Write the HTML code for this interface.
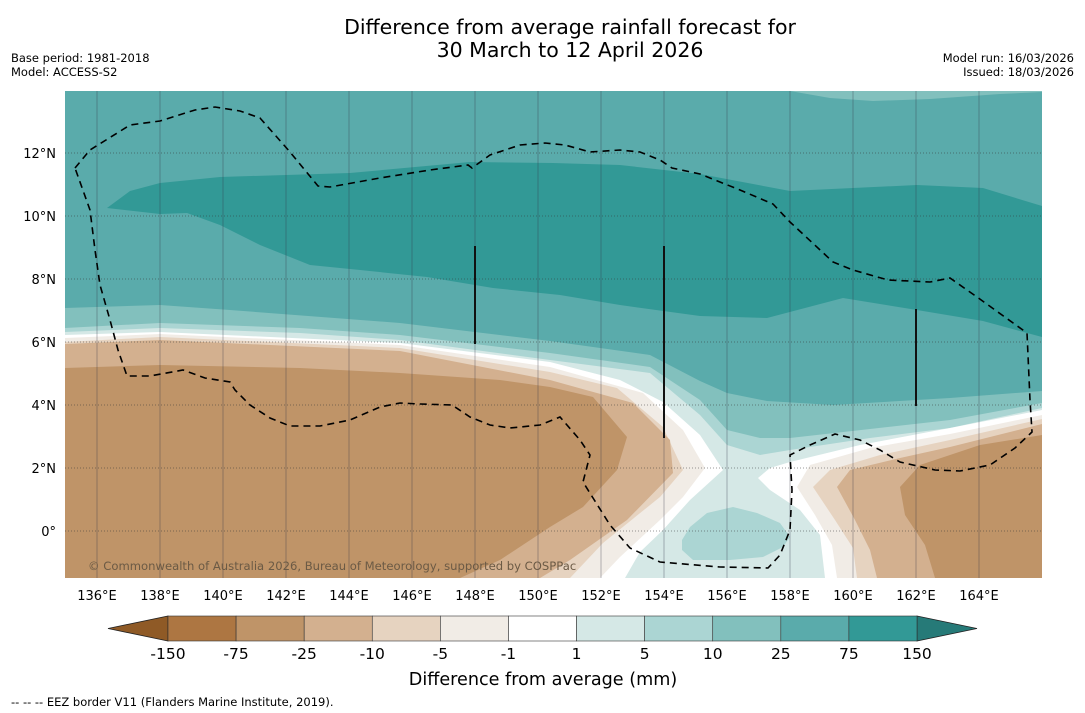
<!DOCTYPE html>
<html><head><meta charset="utf-8"><style>
body{margin:0;background:#fff;width:1085px;height:713px;overflow:hidden;font-family:"DejaVu Sans","Liberation Sans",sans-serif}
svg{position:absolute;left:0;top:0}
</style></head><body>
<svg id="chart" width="1085" height="713" viewBox="0 0 1085 713">
<text x="570" y="34" font-size="20.5" text-anchor="middle">Difference from average rainfall forecast for</text>
<text x="570" y="57" font-size="20.5" text-anchor="middle">30 March to 12 April 2026</text>
<text x="11" y="62" font-size="11.5">Base period: 1981-2018</text>
<text x="11" y="76" font-size="11.5">Model: ACCESS-S2</text>
<text x="1074" y="62" font-size="11.5" text-anchor="end">Model run: 16/03/2026</text>
<text x="1074" y="76" font-size="11.5" text-anchor="end">Issued: 18/03/2026</text>
<defs><clipPath id="mc"><rect x="65" y="91" width="977" height="487"/></clipPath></defs>
<g clip-path="url(#mc)">
<rect x="65" y="91" width="977" height="487" fill="#5aabab"/>
<polygon fill="#82c0bd" points="790,91 830,98 873,101 930,99 1000,94 1042,92 1042,91"/>
<polygon fill="#329996" points="107,208 130,191 160,183 220,177 350,173 470,162 553,163 620,165 700,174 790,191 853,188 917,185 983,188 1042,206 1042,337 983,321 917,310 843,298 767,318 700,316 620,305 560,295 493,288 427,277 360,270 310,265 260,245 220,225 187,213 160,214"/>
<polygon fill="#82c0bd" points="65,308 160,305 230,310 400,323 550,341 650,355 700,381 727,393 767,401 833,405 950,398 1042,391 1042,578 65,578"/>
<polygon fill="#abd5d3" points="65,328 160,323 300,328 400,335 550,353 650,367 700,400 727,430 760,438 790,438 950,420 1042,403 1042,578 65,578"/>
<polygon fill="#d5e8e6" points="65,332 160,328 300,333 400,340 550,360 650,373 700,415 727,445 760,455 790,450 870,438 950,428 1042,408 1042,578 65,578"/>
<polygon fill="#ffffff" points="65,335 160,332 400,343 550,362 620,380 663,402 700,435 723,470 690,500 663,530 640,552 625,578 65,578"/>
<polygon fill="#ffffff" points="1042,410 950,428 860,445 790,462 770,468 758,478 770,490 800,510 820,535 825,578 1042,578"/>
<polygon fill="#f1ece6" points="65,338 160,334 400,345 550,367 643,393 683,430 705,468 683,497 660,520 620,557 600,578 65,578"/>
<polygon fill="#f1ece6" points="1042,415 950,434 870,448 810,465 797,487 815,515 832,545 837,578 1042,578"/>
<polygon fill="#e6d3c0" points="65,342 160,337 400,348 550,372 617,388 663,427 683,470 660,497 603,543 570,578 65,578"/>
<polygon fill="#e6d3c0" points="1042,419 950,440 880,455 830,470 813,487 835,520 853,548 857,578 1042,578"/>
<polygon fill="#d3b08f" points="65,344 160,340 400,351 550,380 633,403 670,440 673,473 627,520 570,560 540,578 65,578"/>
<polygon fill="#d3b08f" points="1042,424 950,447 900,458 850,470 837,487 855,520 870,550 877,578 1042,578"/>
<polygon fill="#bf9468" points="65,368 160,365 300,368 400,373 500,380 550,387 593,397 627,437 617,470 583,507 550,527 500,560 460,578 65,578"/>
<polygon fill="#bf9468" points="1042,435 980,445 920,465 900,487 905,515 925,545 935,578 1042,578"/>
<polygon fill="#abd5d3" points="682,540 690,527 707,513 733,507 757,513 780,523 790,537 783,547 763,557 730,560 693,560 682,550"/>
<g id="grid"></g>
<polyline fill="none" stroke="#000" stroke-width="1.6" stroke-dasharray="7,5" points="75,168 90,150 130,125 160,121 195,110 215,107 240,111 260,118 290,152 318,186 330,187 380,178 430,170 468,165 472,168 490,155 520,145 545,143 565,145 590,152 620,150 640,152 660,160 672,168 700,174 740,190 773,204 790,222 833,262 853,270 888,280 930,282 950,278 977,297 1027,333 1030,400 1032,432 1015,448 990,465 960,471 935,470 900,462 880,450 860,440 835,434 810,445 790,455 792,490 790,530 780,555 768,568 720,567 660,562 630,548 610,525 583,482 590,455 580,440 560,417 540,425 510,428 490,425 470,417 452,405 420,404 400,403 380,407 350,420 320,426 290,426 270,418 250,405 235,390 230,382 205,378 183,370 150,376 127,376 118,350 110,320 100,285 95,250 90,210 75,168"/>
<line x1="475" y1="246" x2="475" y2="344" stroke="#111" stroke-width="2"/>
<line x1="664" y1="246" x2="664" y2="438" stroke="#111" stroke-width="2"/>
<line x1="916" y1="309" x2="916" y2="406" stroke="#111" stroke-width="2"/>
<text x="88" y="570" font-size="11.6" fill="#6b5a45">© Commonwealth of Australia 2026, Bureau of Meteorology, supported by COSPPac</text>
</g>
<g id="axes"></g>
<g id="cbar"></g>
<text x="543" y="685" font-size="17.6" text-anchor="middle">Difference from average (mm)</text>
<text x="11" y="706" font-size="11.5">--  --  -- EEZ border V11 (Flanders Marine Institute, 2019).</text>
</svg>
<script>
const lonTicks=[136,138,140,142,144,146,148,150,152,154,156,158,160,162,164];
const latTicks=[0,2,4,6,8,10,12];
const levelLabels=["-150","-75","-25","-10","-5","-1","1","5","10","25","75","150"];
const levelColors=["#ad7642","#bf9468","#d3b08f","#e6d3c0","#f1ece6","#ffffff","#d5e8e6","#abd5d3","#82c0bd","#5aabab","#329996"];
const NS="http://www.w3.org/2000/svg";
function xLon(l){return 97+(l-136)*31.5;}
function yLat(l){return 531-l*31.5;}
function mk(t,a,p){const e=document.createElementNS(NS,t);for(const k in a)e.setAttribute(k,a[k]);p.appendChild(e);return e;}
const grid=document.getElementById('grid'),axes=document.getElementById('axes'),cb=document.getElementById('cbar');
lonTicks.forEach(l=>{
 const ln=mk('line',{x1:xLon(l),x2:xLon(l),y1:91,y2:578,stroke:'#334',"stroke-opacity":0.35,"stroke-width":1},grid);
 
 
 const t=mk('text',{x:xLon(l),y:600,"font-size":13,"text-anchor":"middle"},axes);t.textContent=l+'°E';
 
 
});
latTicks.forEach(l=>{
 const ln=mk('line',{x1:65,x2:1042,y1:yLat(l),y2:yLat(l),stroke:'#333',"stroke-opacity":0.5,"stroke-width":1,"stroke-dasharray":"1,2"},grid);
 
 
 const t=mk('text',{x:56,y:yLat(l)+5,"font-size":13,"text-anchor":"end"},axes);t.textContent=l===0?'0°':l+'°N';
 
 
});
const x0=168,x1=917,w=(x1-x0)/levelColors.length,cy=616,ch=25;
const lt=mk('polygon',{points:`108,${cy+ch/2} ${x0},${cy} ${x0},${cy+ch}`,fill:'#8f5a26',stroke:'#222',"stroke-width":0.8},cb);


const rt=mk('polygon',{points:`${x1},${cy} 977,${cy+ch/2} ${x1},${cy+ch}`,fill:'#267a78',stroke:'#222',"stroke-width":0.8},cb);


levelColors.forEach((c,i)=>{
 const r=mk('rect',{x:x0+i*w,y:cy,width:w,height:ch,fill:c,stroke:'#333',"stroke-width":0.6},cb);
 
 
});
levelLabels.forEach((s,i)=>{
 const t=mk('text',{x:x0+i*w,y:659,"font-size":15.5,"text-anchor":"middle"},cb);t.textContent=s;
 
 
});
</script>
</body></html>
